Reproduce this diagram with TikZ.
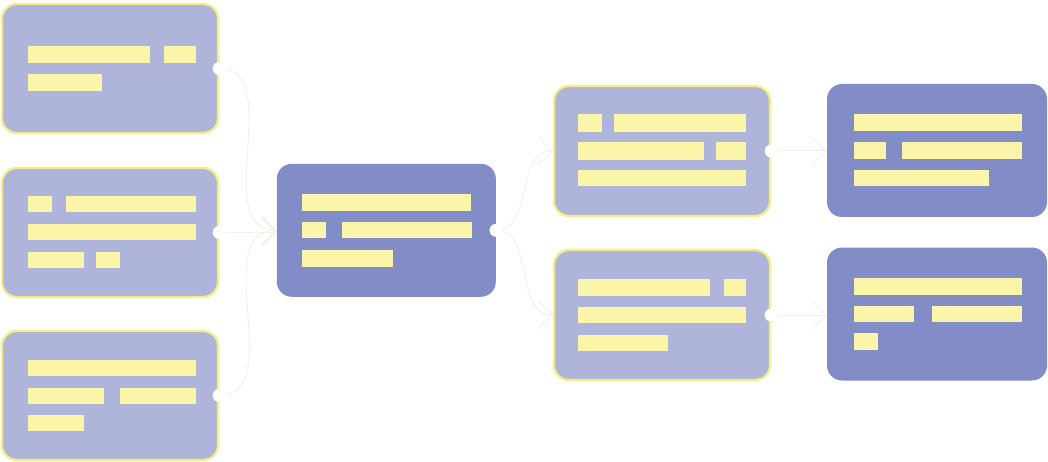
\documentclass[tikz,border=0pt]{standalone}
\usetikzlibrary{arrows.meta}
\definecolor{lightbox}{RGB}{174,180,218}
\definecolor{darkbox}{RGB}{130,141,200}
\definecolor{barcol}{RGB}{251,245,170}
\definecolor{edgecol}{RGB}{246,236,128}
\definecolor{linkcol}{RGB}{242,242,234}
\begin{document}
\begin{tikzpicture}[x=1pt,y=-1pt,
  lightnode/.style={draw=edgecol, line width=2.2pt, fill=lightbox, rounded corners=15pt, inner sep=0pt, minimum width=216pt, minimum height=129pt},
  darknode/.style={fill=darkbox, rounded corners=15pt, inner sep=0pt, minimum width=220pt, minimum height=133pt},
  link/.style={draw=linkcol, line width=1pt, -{Straight Barb[length=14pt,width=28pt,line width=1pt]}},
  bar/.style={fill=barcol},
  dot/.style={fill=white}]
\useasboundingbox (0,0) rectangle (1048,462);
% nodes
\node[lightnode] (l1) at (110,68.5) {};
\node[lightnode] (l2) at (110,232.5) {};
\node[lightnode] (l3) at (110,395.5) {};
\node[darknode, minimum width=219pt, minimum height=133pt] (c) at (386.3,230.3) {};
\node[lightnode, minimum height=130pt] (r1) at (662,151) {};
\node[lightnode, minimum height=130pt] (r2) at (662,315) {};
\node[darknode] (f1) at (937,150.5) {};
\node[darknode] (f2) at (937,314) {};
% connectors
\draw[link] (l1.east) to[out=0,in=180] (c.west);
\draw[link] (l2.east) -- (l2.east -| c.west);
\draw[link] (l3.east) to[out=0,in=180] (c.west);
\draw[link] (c.east) to[out=0,in=180] (r1.west);
\draw[link] (c.east) to[out=0,in=180] (r2.west);
\draw[link] (r1.east) -- (r1.east -| f1.west);
\draw[link] (r2.east) -- (r2.east -| f2.west);
% dots
\foreach \n in {l1,l2,l3,c,r1,r2} \fill[dot] (\n.east) circle (6.5);
% bars: left 1
\fill[bar] (28,46) rectangle (150,63);
\fill[bar] (164,46) rectangle (196,63);
\fill[bar] (28,74) rectangle (102,91);
% left 2
\fill[bar] (28,196) rectangle (52,212);
\fill[bar] (66,196) rectangle (196,212);
\fill[bar] (28,224) rectangle (196,240);
\fill[bar] (28,252) rectangle (84,268);
\fill[bar] (96,252) rectangle (120,268);
% left 3
\fill[bar] (28,360) rectangle (196,376);
\fill[bar] (28,388) rectangle (104,404);
\fill[bar] (120,388) rectangle (196,404);
\fill[bar] (28,415) rectangle (84,431);
% center
\fill[bar] (302,194) rectangle (471,211);
\fill[bar] (302,222) rectangle (326,238);
\fill[bar] (342,222) rectangle (472,238);
\fill[bar] (302,250) rectangle (393,267);
% right 1
\fill[bar] (578,114) rectangle (602,132);
\fill[bar] (614,114) rectangle (746,132);
\fill[bar] (578,142) rectangle (704,160);
\fill[bar] (716,142) rectangle (746,160);
\fill[bar] (578,170) rectangle (746,186);
% right 2
\fill[bar] (578,279) rectangle (710,296);
\fill[bar] (724,279) rectangle (746,296);
\fill[bar] (578,307) rectangle (746,323);
\fill[bar] (578,335) rectangle (668,351);
% far right 1
\fill[bar] (854,114) rectangle (1022,131);
\fill[bar] (854,142) rectangle (886,159);
\fill[bar] (902,142) rectangle (1022,159);
\fill[bar] (854,170) rectangle (989,186);
% far right 2
\fill[bar] (854,278) rectangle (1022,295);
\fill[bar] (854,306) rectangle (914,322);
\fill[bar] (932,306) rectangle (1022,322);
\fill[bar] (854,333) rectangle (878,350);
\end{tikzpicture}
\end{document}
